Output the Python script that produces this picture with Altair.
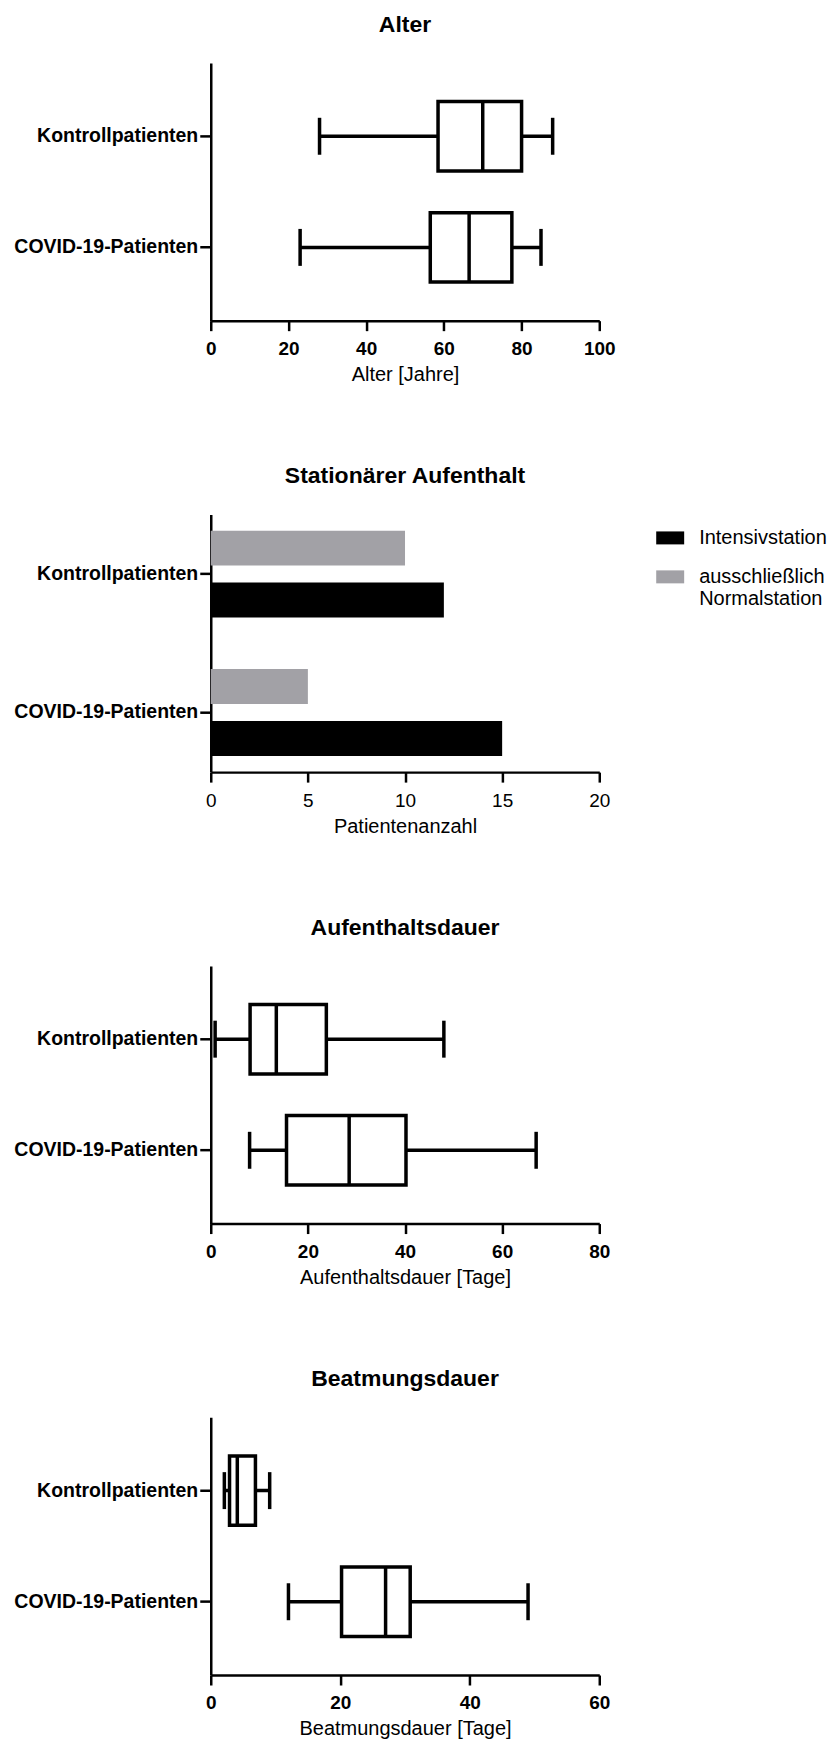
import altair as alt
import pandas as pd

groups = ["Kontrollpatienten", "COVID-19-Patienten"]

# Alter [Jahre]
alter_min = [28, 23]
alter_q1 = [58.5, 56.5]
alter_med = [70, 66.5]
alter_q3 = [80, 77.5]
alter_max = [88, 85]

# Stationärer Aufenthalt
station_groups = ["Kontrollpatienten", "Kontrollpatienten", "COVID-19-Patienten", "COVID-19-Patienten"]
station_types = ["ausschließlich Normalstation", "Intensivstation", "ausschließlich Normalstation", "Intensivstation"]
station_counts = [10, 12, 5, 15]

# Aufenthaltsdauer [Tage]
aufe_min = [0.9, 8]
aufe_q1 = [8.1, 15.6]
aufe_med = [13.5, 28.5]
aufe_q3 = [23.8, 40.2]
aufe_max = [48, 67]

# Beatmungsdauer [Tage]
beat_min = [2.1, 12]
beat_q1 = [2.9, 20.2]
beat_med = [4.1, 27]
beat_q3 = [6.9, 30.8]
beat_max = [9.1, 49]

FONT = "Liberation Sans"
W = 389
H = 258
SW = 3.5


def y_enc():
    return alt.Y(
        "group:N",
        sort=groups,
        scale=alt.Scale(paddingInner=0.375, paddingOuter=0.347),
        axis=alt.Axis(title=None),
    )


def box_panel(title, xtitle, domain_max, step, mn, q1, md, q3, mx):
    df = pd.DataFrame({"group": groups, "min": mn, "q1": q1, "med": md, "q3": q3, "max": mx})
    xs = alt.Scale(domain=[0, domain_max], nice=False, zero=True)
    xax = alt.Axis(
        title=xtitle,
        values=list(range(0, domain_max + 1, step)),
        labelFontWeight="bold",
    )
    base = alt.Chart(df)
    whisk = base.mark_rule(color="black", strokeWidth=SW, opacity=1).encode(
        x=alt.X("min:Q", scale=xs, axis=xax), x2="max:Q", y=y_enc()
    )
    box = base.mark_bar(fill="white", stroke="black", strokeWidth=SW, opacity=1).encode(
        x=alt.X("q1:Q", scale=xs), x2="q3:Q", y=y_enc()
    )
    med = base.mark_tick(color="black", thickness=SW, size=70, opacity=1).encode(
        x=alt.X("med:Q", scale=xs), y=y_enc()
    )
    capmin = base.mark_tick(color="black", thickness=SW, size=37, opacity=1).encode(
        x=alt.X("min:Q", scale=xs), y=y_enc()
    )
    capmax = base.mark_tick(color="black", thickness=SW, size=37, opacity=1).encode(
        x=alt.X("max:Q", scale=xs), y=y_enc()
    )
    return alt.layer(whisk, box, med, capmin, capmax).properties(
        width=W, height=H, title=title
    )


alter = box_panel("Alter", "Alter [Jahre]", 100, 20,
                  alter_min, alter_q1, alter_med, alter_q3, alter_max)

sdf = pd.DataFrame({"group": station_groups, "typ": station_types, "n": station_counts})
station = alt.Chart(sdf).mark_bar(opacity=1).encode(
    x=alt.X(
        "n:Q",
        scale=alt.Scale(domain=[0, 20], nice=False),
        axis=alt.Axis(title="Patientenanzahl", values=[0, 5, 10, 15, 20], labelFontWeight="normal"),
    ),
    y=alt.Y(
        "group:N",
        sort=groups,
        scale=alt.Scale(paddingInner=0.372, paddingOuter=0.117),
        axis=alt.Axis(title=None),
    ),
    yOffset=alt.YOffset(
        "typ:N",
        sort=["ausschließlich Normalstation", "Intensivstation"],
        scale=alt.Scale(paddingInner=0.327, paddingOuter=0),
    ),
    color=alt.Color(
        "typ:N",
        scale=alt.Scale(
            domain=["Intensivstation", "ausschließlich Normalstation"],
            range=["#000000", "#A2A1A6"],
        ),
        legend=alt.Legend(
            title=None,
            orient="none",
            legendX=446,
            legendY=9.5,
            padding=0,
            symbolType="M-1,-0.464H1V0.464H-1Z",
            symbolSize=784,
            symbolStrokeWidth=0,
            symbolOpacity=1,
            labelFont=FONT,
            labelFontSize=20,
            labelColor="black",
            labelOffset=15,
            labelLimit=300,
            rowPadding=15,
            labelExpr="datum.label == 'ausschließlich Normalstation' ? ['ausschließlich', 'Normalstation'] : datum.label",
        ),
    ),
).properties(width=W, height=H, title="Stationärer Aufenthalt")

aufe = box_panel("Aufenthaltsdauer", "Aufenthaltsdauer [Tage]", 80, 20,
                 aufe_min, aufe_q1, aufe_med, aufe_q3, aufe_max)

beat = box_panel("Beatmungsdauer", "Beatmungsdauer [Tage]", 60, 20,
                 beat_min, beat_q1, beat_med, beat_q3, beat_max)

chart = alt.vconcat(alter, station, aufe, beat, spacing=81).resolve_legend(
    color="independent"
).resolve_scale(
    color="independent", x="independent", y="independent"
).properties(
    padding={"left": 5, "top": 5, "right": 0, "bottom": 0}
).configure_view(stroke=None).configure_title(
    font=FONT, fontSize=23, fontWeight="bold", color="black",
    anchor="middle", frame="group", offset=26,
).configure_axis(
    grid=False,
    domainColor="black",
    domainWidth=2.5,
    tickColor="black",
    tickWidth=2.5,
    labelColor="black",
    titleColor="black",
    labelFont=FONT,
    titleFont=FONT,
).configure_axisX(
    tickSize=10,
    labelPadding=9,
    labelFontSize=19,
    labelFlush=False,
    titleFontSize=20,
    titleFontWeight="normal",
    titlePadding=6,
).configure_axisY(
    tickSize=11,
    labelPadding=2,
    labelFontSize=19.5,
    labelFontWeight="bold",
    labelLimit=300,
)

chart.save("out.html", embed_options={"renderer": "svg", "actions": False})
